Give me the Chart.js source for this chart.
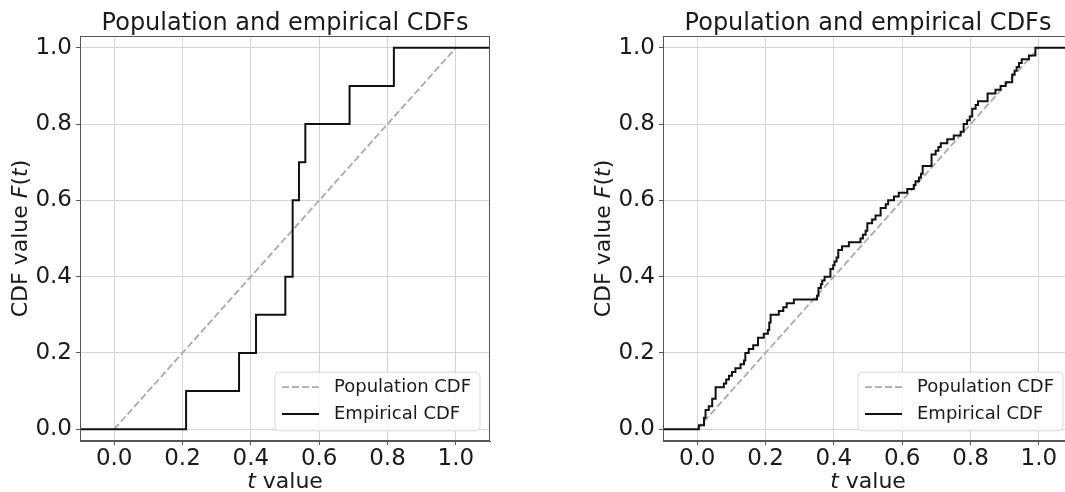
<!DOCTYPE html>
<html><head><meta charset="utf-8">
<script src="https://cdn.jsdelivr.net/npm/chart.js@4.4.0/dist/chart.umd.min.js"></script>
<style>
html,body{margin:0;padding:0;background:#fff;overflow:hidden;width:1065px;height:492px;position:relative;}
#w1{position:absolute;left:0;top:0;width:540px;height:492px;}
#w2{position:absolute;left:540px;top:0;width:560px;height:492px;}
canvas{display:block;}
</style></head><body>
<div id="w1"><canvas id="c1" width="540" height="492"></canvas></div>
<div id="w2"><canvas id="c2" width="560" height="492"></canvas></div>
<script>
// ---------- data ----------
const titleText = 'Population and empirical CDFs';
const seriesLabels = ['Population CDF', 'Empirical CDF'];
const xTicks = [0.0, 0.2, 0.4, 0.6, 0.8, 1.0];
const yTicks = [0.0, 0.2, 0.4, 0.6, 0.8, 1.0];
const xRange = [-0.1, 1.1];
const yRange = [-0.031, 1.031];
const popT = [0.0, 1.0];
const popF = [0.0, 1.0];
const startLevel = 0.0;
// left panel: empirical CDF (jump positions and level after each jump)
const leftJumpT = [0.2105, 0.3655, 0.4152, 0.5010, 0.5224, 0.5410, 0.5595, 0.6890, 0.8187];
const leftLevel = [0.10, 0.20, 0.30, 0.40, 0.60, 0.70, 0.80, 0.90, 1.00];
// right panel: empirical CDF
const rightJumpT = [0.005, 0.020, 0.0245, 0.034, 0.044, 0.054, 0.078, 0.085, 0.093, 0.102,
  0.112, 0.127, 0.137, 0.141, 0.151, 0.164, 0.178, 0.195, 0.207, 0.211,
  0.215, 0.239, 0.252, 0.262, 0.283, 0.351, 0.355, 0.362, 0.366, 0.373,
  0.390, 0.398, 0.402, 0.408, 0.413, 0.424, 0.444, 0.478, 0.485, 0.493,
  0.498, 0.512, 0.522, 0.537, 0.552, 0.559, 0.576, 0.590, 0.615, 0.634,
  0.639, 0.649, 0.655, 0.660, 0.686, 0.698, 0.706, 0.713, 0.732, 0.751,
  0.771, 0.780, 0.790, 0.798, 0.805, 0.815, 0.822, 0.850, 0.873, 0.888,
  0.903, 0.922, 0.929, 0.935, 0.942, 0.950, 0.971, 0.990];
const rightLevel = [0.01, 0.03, 0.05, 0.06, 0.08, 0.11, 0.12, 0.13, 0.14, 0.15,
  0.16, 0.17, 0.18, 0.20, 0.21, 0.22, 0.24, 0.25, 0.26, 0.28,
  0.30, 0.31, 0.32, 0.33, 0.34, 0.35, 0.37, 0.38, 0.39, 0.40,
  0.42, 0.43, 0.44, 0.45, 0.47, 0.48, 0.49, 0.50, 0.51, 0.52,
  0.54, 0.55, 0.56, 0.58, 0.59, 0.60, 0.61, 0.62, 0.63, 0.64,
  0.65, 0.66, 0.67, 0.69, 0.72, 0.73, 0.74, 0.75, 0.76, 0.77,
  0.78, 0.80, 0.81, 0.82, 0.84, 0.85, 0.86, 0.88, 0.89, 0.90,
  0.91, 0.93, 0.94, 0.95, 0.96, 0.97, 0.98, 1.00];

// ---------- helpers ----------
const FONT = 'DejaVu Sans';
function stepPoints(jt, lv) {
  const pts = [{x: xRange[0], y: startLevel}];
  jt.forEach((t, i) => pts.push({x: t, y: lv[i]}));
  pts.push({x: xRange[1], y: lv[lv.length - 1]});
  return pts;
}
function popPoints() { return popT.map((t, i) => ({x: t, y: popF[i]})); }

function drawMixed(ctx, parts, size, x, y) {
  let total = 0;
  const widths = parts.map(p => {
    ctx.font = (p[1] ? 'italic ' : '') + size + 'px "' + FONT + '"';
    const w = ctx.measureText(p[0]).width; total += w; return w;
  });
  let cx = x - total / 2;
  parts.forEach((p, i) => {
    ctx.font = (p[1] ? 'italic ' : '') + size + 'px "' + FONT + '"';
    ctx.fillText(p[0], cx, y);
    cx += widths[i];
  });
}

const decorPlugin = {
  id: 'decor',
  afterDatasetsDraw(chart) {
    const ctx = chart.ctx, ca = chart.chartArea;
    ctx.save();
    ctx.strokeStyle = '#555';
    ctx.lineWidth = 1;
    ctx.strokeRect(Math.round(ca.left) + 0.5, Math.round(ca.top) + 0.5,
      Math.round(ca.right - ca.left) - 1, Math.round(ca.bottom - ca.top) - 1);
    ctx.restore();
  },
  afterDraw(chart) {
    const ctx = chart.ctx, ca = chart.chartArea;
    ctx.save();
    ctx.fillStyle = '#1a1a1a';
    ctx.textBaseline = 'alphabetic';
    ctx.textAlign = 'left';
    // x axis title
    drawMixed(ctx, [['t', true], [' value', false]], 22, (ca.left + ca.right) / 2, ca.bottom + 47);
    // y axis title
    ctx.save();
    ctx.translate(ca.left - 53, (ca.top + ca.bottom) / 2);
    ctx.rotate(-Math.PI / 2);
    drawMixed(ctx, [['CDF value ', false], ['F', true], ['(', false], ['t', true], [')', false]], 22, 0, 0);
    ctx.restore();
    // legend
    const bw = 205, bh = 58.5;
    const x0 = ca.right - 10 - bw, y0 = ca.bottom - 10.3 - bh, r = 4;
    ctx.beginPath();
    ctx.moveTo(x0 + r, y0);
    ctx.arcTo(x0 + bw, y0, x0 + bw, y0 + bh, r);
    ctx.arcTo(x0 + bw, y0 + bh, x0, y0 + bh, r);
    ctx.arcTo(x0, y0 + bh, x0, y0, r);
    ctx.arcTo(x0, y0, x0 + bw, y0, r);
    ctx.closePath();
    ctx.fillStyle = 'rgba(255,255,255,0.85)';
    ctx.fill();
    ctx.strokeStyle = '#d9d9d9';
    ctx.lineWidth = 1;
    ctx.stroke();
    const rows = [y0 + 15, y0 + 41.7];
    chart.data.datasets.forEach((ds, i) => {
      const yy = rows[i];
      ctx.beginPath();
      ctx.setLineDash(ds.borderDash || []);
      ctx.strokeStyle = ds.borderColor;
      ctx.lineWidth = ds.borderWidth;
      ctx.moveTo(x0 + 7, yy);
      ctx.lineTo(x0 + 44, yy);
      ctx.stroke();
      ctx.setLineDash([]);
      ctx.fillStyle = '#1a1a1a';
      ctx.font = '18px "' + FONT + '"';
      ctx.textBaseline = 'middle';
      ctx.fillText(ds.label, x0 + 59, yy);
    });
    ctx.restore();
  }
};

function makeChart(id, jt, lv, yAxisWidth, rightPad) {
  return new Chart(document.getElementById(id), {
    type: 'line',
    data: {
      datasets: [
        {label: seriesLabels[0], data: popPoints(), borderColor: '#aaaaaa', borderWidth: 1.8,
         borderDash: [7, 3], pointRadius: 0, fill: false, order: 1},
        {label: seriesLabels[1], data: stepPoints(jt, lv), borderColor: '#111111', borderWidth: 2,
         stepped: 'before', pointRadius: 0, fill: false, order: 0}
      ]
    },
    options: {
      responsive: false,
      animation: false,
      events: [],
      layout: {padding: {left: 0, right: rightPad, top: 0, bottom: 0}},
      plugins: {
        legend: {display: false},
        tooltip: {enabled: false},
        title: {display: true, text: titleText, fullSize: false, color: '#1a1a1a',
          font: {family: FONT, size: 24, weight: 'normal', lineHeight: 1.0},
          padding: {top: 11.5, bottom: 0.5}}
      },
      scales: {
        x: {
          type: 'linear', min: xRange[0], max: xRange[1],
          afterBuildTicks: s => { s.ticks = xTicks.map(v => ({value: v})); },
          afterFit: s => { s.height = 51; },
          ticks: {callback: v => Number(v).toFixed(1), font: {family: FONT, size: 23},
            color: '#1a1a1a', padding: 0, maxRotation: 0, autoSkip: false},
          grid: {color: '#d4d4d4', lineWidth: 1, tickLength: 4, tickColor: '#555', drawTicks: true},
          border: {display: true, color: '#555', width: 1}
        },
        y: {
          type: 'linear', min: yRange[0], max: yRange[1],
          afterBuildTicks: s => { s.ticks = yTicks.map(v => ({value: v})); },
          afterFit: s => { s.width = yAxisWidth; },
          ticks: {callback: v => Number(v).toFixed(1), font: {family: FONT, size: 23},
            color: '#1a1a1a', padding: 4, autoSkip: false},
          grid: {color: '#d4d4d4', lineWidth: 1, tickLength: 4, tickColor: '#555', drawTicks: true},
          border: {display: true, color: '#555', width: 1}
        }
      }
    },
    plugins: [decorPlugin]
  });
}

makeChart('c1', leftJumpT, leftLevel, 80, 50);
makeChart('c2', rightJumpT, rightLevel, 123, 27);
</script>
</body></html>
